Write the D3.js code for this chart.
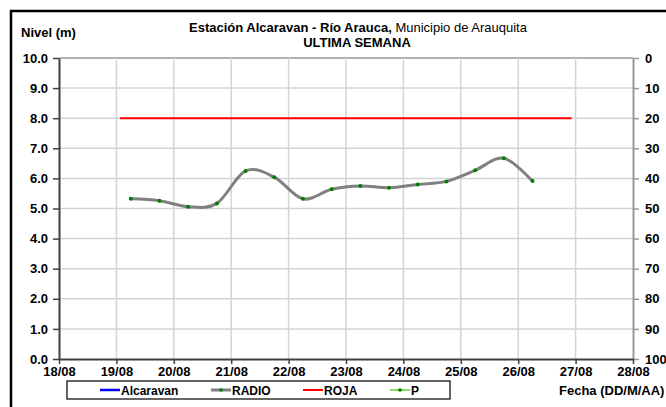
<!DOCTYPE html>
<html>
<head>
<meta charset="utf-8">
<script src="https://cdn.jsdelivr.net/npm/d3@7"></script>
<style>
  body { margin: 0; background: #fff; }
  svg { display: block; font-family: "Liberation Sans", Arial, sans-serif; }
  .lbl { font-weight: bold; font-size: 13px; fill: #000; font-family: "Liberation Sans", Arial, sans-serif; }
</style>
</head>
<body>
<div class="js-chart"></div>
<script>
'use strict';

// readings of the RADIO sensor (fecha, nivel)
var radioTimes = ['19/08 06:00', '19/08 18:00', '20/08 06:00', '20/08 18:00', '21/08 06:00',
    '21/08 18:00', '22/08 06:00', '22/08 18:00', '23/08 06:00', '23/08 18:00', '24/08 06:00',
    '24/08 18:00', '25/08 06:00', '25/08 18:00', '26/08 06:00'];
var radioLevels = [5.32, 5.26, 5.06, 5.17, 6.25, 6.04, 5.32, 5.64, 5.75, 5.69, 5.80, 5.90, 6.27, 6.67, 5.91];

// red alert level
var rojaTimes = ['19/08 01:30', '26/08 22:20'];
var rojaLevels = [8.0, 8.0];

var dayTicks = ['18/08', '19/08', '20/08', '21/08', '22/08', '23/08', '24/08', '25/08', '26/08', '27/08', '28/08'];
var levelTicks = [0, 1, 2, 3, 4, 5, 6, 7, 8, 9, 10];
var rainTicks = [0, 10, 20, 30, 40, 50, 60, 70, 80, 90, 100];
var legendNames = ['Alcaravan', 'RADIO', 'ROJA', 'P'];

var parseT = d3.utcParse('%d/%m/%Y %H:%M');
function toDate(s) {
    var p = s.split(' ');
    return parseT(p[0] + '/2023 ' + (p[1] || '00:00'));
}

var W = 666, H = 407;
var m = {l: 59, r: 633, t: 58, b: 359};

var svg = d3.select('.js-chart').append('svg').attr('width', W).attr('height', H);

//outer frame
svg.append('rect').attr('x', 11).attr('y', 11).attr('width', 700).attr('height', 450)
    .style('fill', 'none').style('stroke', '#000').style('stroke-width', 2.5);

var x = d3.scaleUtc().domain([toDate(dayTicks[0]), toDate(dayTicks[dayTicks.length - 1])]).range([m.l, m.r]);
var y = d3.scaleLinear().domain([0, 10]).range([m.b, m.t]);
var yR = d3.scaleLinear().domain([0, 100]).range([m.t, m.b]);

//grid
var grid = svg.append('g');
grid.selectAll('.gy').data(levelTicks.slice(1)).enter().append('line')
    .attr('x1', m.l).attr('x2', m.r)
    .attr('y1', function (d) { return y(d); }).attr('y2', function (d) { return y(d); })
    .style('stroke', function (d) { return d === 10 ? '#999' : '#d4d4d4'; }).style('stroke-width', 1.5);
grid.selectAll('.gx').data(dayTicks.slice(1, -1)).enter().append('line')
    .attr('y1', m.t).attr('y2', m.b)
    .attr('x1', function (d) { return x(toDate(d)); }).attr('x2', function (d) { return x(toDate(d)); })
    .style('stroke', '#d4d4d4').style('stroke-width', 1.5);

//axes
function styleAxis(g, color) {
    g.attr('font-family', null).attr('font-size', null);
    g.select('.domain').style('stroke', color).style('stroke-width', 2);
    g.selectAll('.tick line').style('stroke', color).style('stroke-width', 1.5);
    g.selectAll('.tick text').attr('class', 'lbl').attr('fill', null);
}

var axR = svg.append('g').attr('transform', 'translate(' + m.r + ',0)')
    .call(d3.axisRight(yR).tickValues(rainTicks).tickSize(6).tickSizeOuter(0).tickPadding(6));
styleAxis(axR, '#999');

var axL = svg.append('g').attr('transform', 'translate(' + m.l + ',0)')
    .call(d3.axisLeft(y).tickValues(levelTicks).tickFormat(d3.format('.1f')).tickSize(6).tickSizeOuter(0).tickPadding(5));
styleAxis(axL, '#404040');

var axB = svg.append('g').attr('transform', 'translate(0,' + m.b + ')')
    .call(d3.axisBottom(x).tickValues(dayTicks.map(toDate)).tickFormat(d3.utcFormat('%d/%m')).tickSize(5).tickSizeOuter(0).tickPadding(3));
styleAxis(axB, '#404040');

//series
var rojaLine = d3.line()
    .x(function (d, i) { return x(toDate(rojaTimes[i])); })
    .y(function (d) { return y(d); });
svg.append('path').datum(rojaLevels).attr('d', rojaLine)
    .style('fill', 'none').style('stroke', '#ff0000').style('stroke-width', 2);

var radioLine = d3.line()
    .curve(d3.curveCardinal.tension(0))
    .x(function (d, i) { return x(toDate(radioTimes[i])); })
    .y(function (d) { return y(d); });
svg.append('path').datum(radioLevels).attr('d', radioLine)
    .style('fill', 'none').style('stroke', '#808080').style('stroke-width', 3);
svg.selectAll('.dot').data(radioLevels).enter().append('circle')
    .attr('cx', function (d, i) { return x(toDate(radioTimes[i])); })
    .attr('cy', function (d) { return y(d); })
    .attr('r', 2).style('fill', '#008000');

//titles
svg.append('text').attr('class', 'lbl').attr('x', 21).attr('y', 37).text('Nivel (m)');
var t1 = svg.append('text').attr('x', 358).attr('y', 32).attr('text-anchor', 'middle').style('font-size', '13px');
t1.append('tspan').style('font-weight', 'bold').text('Estación Alcaravan - Río Arauca,');
t1.append('tspan').text(' Municipio de Arauquita');
svg.append('text').attr('class', 'lbl').attr('x', 357).attr('y', 47).attr('text-anchor', 'middle').text('ULTIMA SEMANA');
svg.append('text').attr('class', 'lbl').attr('x', 559).attr('y', 395).text('Fecha (DD/M/AA)');

//legend
var lg = svg.append('g');
lg.append('rect').attr('x', 67).attr('y', 381).attr('width', 383).attr('height', 18)
    .style('fill', '#fff').style('stroke', '#000').style('stroke-width', 1.2);
var legendX = [100, 211, 303, 390];
var legendColor = ['#0000ff', '#808080', '#ff0000', '#66cc33'];
var legendWidth = [2.5, 3, 2, 1.5];
legendNames.forEach(function (name, i) {
    lg.append('line').attr('x1', legendX[i]).attr('x2', legendX[i] + 20).attr('y1', 390).attr('y2', 390)
        .style('stroke', legendColor[i]).style('stroke-width', legendWidth[i]);
    if (name === 'RADIO' || name === 'P') {
        lg.append('circle').attr('cx', legendX[i] + 10).attr('cy', 390).attr('r', 1.8).style('fill', '#008000');
    }
    lg.append('text').attr('x', legendX[i] + 21).attr('y', 394.5)
        .style('font-weight', 'bold').style('font-size', '12px').text(name);
});
</script>
</body>
</html>
